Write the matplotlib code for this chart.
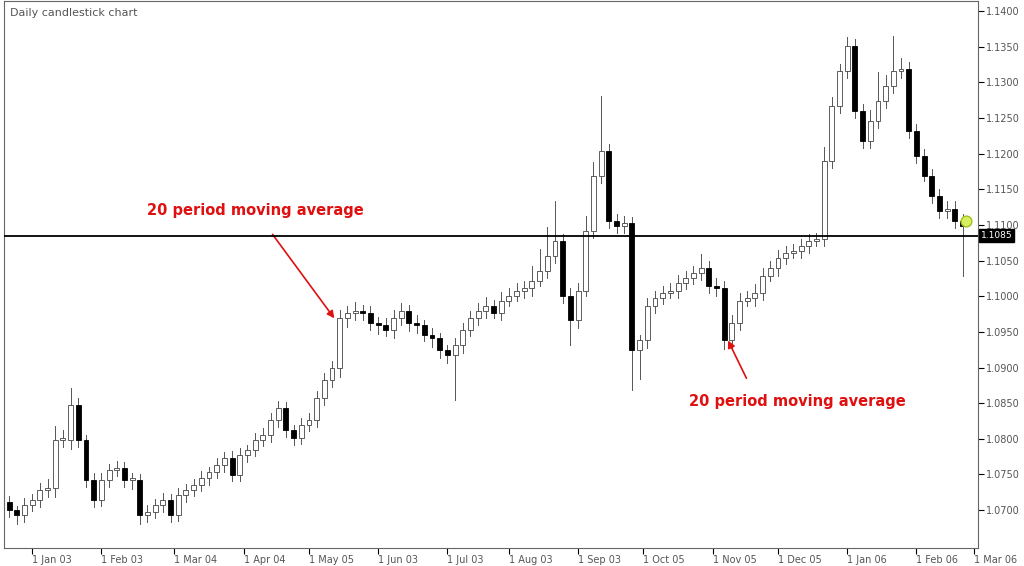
import matplotlib
matplotlib.use("Agg")
import matplotlib.pyplot as plt
from matplotlib.patches import Rectangle

closes = [1.0700,1.0693,1.0707,1.0714,1.0728,1.0731,1.0798,1.0798,1.0847,1.0798,
          1.0742,1.0714,1.0742,1.0756,1.0759,1.0742,1.0742,1.0693,1.0697,1.0707,
          1.0714,1.0693,1.0721,1.0728,1.0735,1.0745,1.0753,1.0763,1.0773,1.0749,
          1.0777,1.0784,1.0798,1.0805,1.0826,1.0843,1.0812,1.0801,1.0819,1.0826,
          1.0857,1.0882,1.0899,1.0969,1.0977,1.0980,1.0977,1.0963,1.0959,1.0952,
          1.0969,1.0980,1.0963,1.0959,1.0945,1.0941,1.0924,1.0917,1.0931,1.0952,
          1.0969,1.0980,1.0987,1.0977,1.0994,1.1001,1.1008,1.1011,1.1022,1.1036,
          1.1057,1.1078,1.1001,1.0966,1.1008,1.1092,1.1169,1.1204,1.1106,1.1099,
          1.1103,1.0924,1.0938,1.0987,1.0997,1.1005,1.1008,1.1018,1.1025,1.1033,
          1.1039,1.1015,1.1011,1.0938,1.0963,1.0994,1.0997,1.1005,1.1029,1.1039,
          1.1053,1.1061,1.1064,1.1071,1.1078,1.1081,1.1190,1.1267,1.1316,1.1351,
          1.1260,1.1218,1.1246,1.1274,1.1295,1.1316,1.1319,1.1232,1.1197,1.1169,
          1.1141,1.1120,1.1123,1.1106,1.1099]
opens = [1.0712] + closes[:-1]
wick_up = [8,6,10,8,10,12,20,15,24,10, 8,10,10,8,10,8,10,8,10,8,
           10,8,10,8,8,10,8,10,8,10, 10,8,10,10,10,10,8,8,10,10,
           10,10,10,12,10,12,8,10,8,10, 12,10,8,10,8,10,8,8,10,10,
           10,10,12,8,12,10,10,10,20,30, 40,55,10,10,10,20,20,77,10,10,
           10,8,8,10,10,10,10,12,10,10, 20,10,10,10,10,10,10,12,10,10,
           12,10,10,10,10,8,20,12,10,12, 10,10,15,40,15,49,15,10,10,10,
           10,10,10,10,10]
wick_dn = [10,12,10,8,10,10,12,10,12,10, 10,10,8,10,8,10,12,12,10,8,
           10,10,8,10,8,8,10,8,10,8, 8,10,8,8,10,10,10,10,8,8,
           10,10,10,12,12,10,10,10,12,8, 10,10,12,10,8,12,10,10,63,10,
           8,10,10,8,10,8,8,10,10,8, 10,10,10,35,10,8,10,10,10,10,
           10,56,40,10,10,8,8,10,8,8, 10,10,10,12,10,10,8,10,10,8,
           10,8,8,10,10,8,10,10,10,10, 10,10,10,10,10,10,10,10,10,8,
           10,10,10,10,70]
yticks = [1.0700 + 0.005*k for k in range(15)]
date_labels = ["1 Jan 03","1 Feb 03","1 Mar 04","1 Apr 04","1 May 05","1 Jun 03",
               "1 Jul 03","1 Aug 03","1 Sep 03","1 Oct 05","1 Nov 05","1 Dec 05",
               "1 Jan 06","1 Feb 06","1 Mar 06"]
date_pos = [3, 12, 21.5, 30.5, 39, 48, 57, 65, 74, 82.5, 91.5, 100, 109, 118, 125.5]
level = 1.1085
title = "Daily candlestick chart"

fig = plt.figure(figsize=(10.24, 5.66), dpi=100)
ax = fig.add_axes([0.004, 0.032, 0.951, 0.966])
n = len(closes)
for i in range(n):
    o, c = opens[i], closes[i]
    hi = max(o, c) + wick_up[i]*1e-4
    lo = min(o, c) - wick_dn[i]*1e-4
    ax.plot([i, i], [lo, hi], color="#555555", lw=0.7, zorder=1)
    up = c >= o
    body = max(abs(c-o), 0.0003)
    ax.add_patch(Rectangle((i-0.32, min(o, c)), 0.64, body,
                           facecolor="white" if up else "black",
                           edgecolor="#444444" if up else "black", lw=0.6, zorder=2))
ax.scatter([n-1+0.4], [closes[-1]+0.0006], s=60, color="#d8f060", edgecolor="#a0c020", zorder=3)
ax.axhline(level, color="black", lw=1.3, zorder=4)
ax.set_xlim(-0.65, 126)
ax.set_ylim(1.0647, 1.1414)
ax.yaxis.tick_right()
ax.set_yticks(yticks)
ax.set_yticklabels([f"{v:.4f}" for v in yticks], fontsize=7, color="#555555")
ax.set_xticks(date_pos)
ax.set_xticklabels(date_labels, fontsize=7, color="#555555", ha="left")
ax.tick_params(axis="x", length=4, pad=1)
ax.tick_params(axis="y", length=4, pad=2)
for s in ax.spines.values():
    s.set_color("#666666"); s.set_linewidth(0.8)
ax.text(1.003, level, f"{level:.4f}", transform=ax.get_yaxis_transform(), fontsize=6.5,
        color="white", va="center", ha="left",
        bbox=dict(boxstyle="square,pad=0.2", fc="black", ec="black"), clip_on=False)
ax.text(0.006, 0.988, title, transform=ax.transAxes, fontsize=8, color="#555555", va="top")
ax.annotate("20 period moving average", xy=(42.3, 1.0969), xytext=(32, 1.1120),
            fontsize=10.5, fontweight="bold", color="#e01010", ha="center", va="center",
            arrowprops=dict(arrowstyle="-|>", color="#e01010", lw=1.2,
                            shrinkA=12, shrinkB=0))
ax.annotate("20 period moving average", xy=(93.5, 1.0938), xytext=(102.5, 1.0853),
            fontsize=10.5, fontweight="bold", color="#e01010", ha="center", va="center",
            arrowprops=dict(arrowstyle="-|>", color="#e01010", lw=1.2,
                            shrinkA=10, shrinkB=0, relpos=(0.3, 1.0)))
fig.savefig("out.png", dpi=100)
